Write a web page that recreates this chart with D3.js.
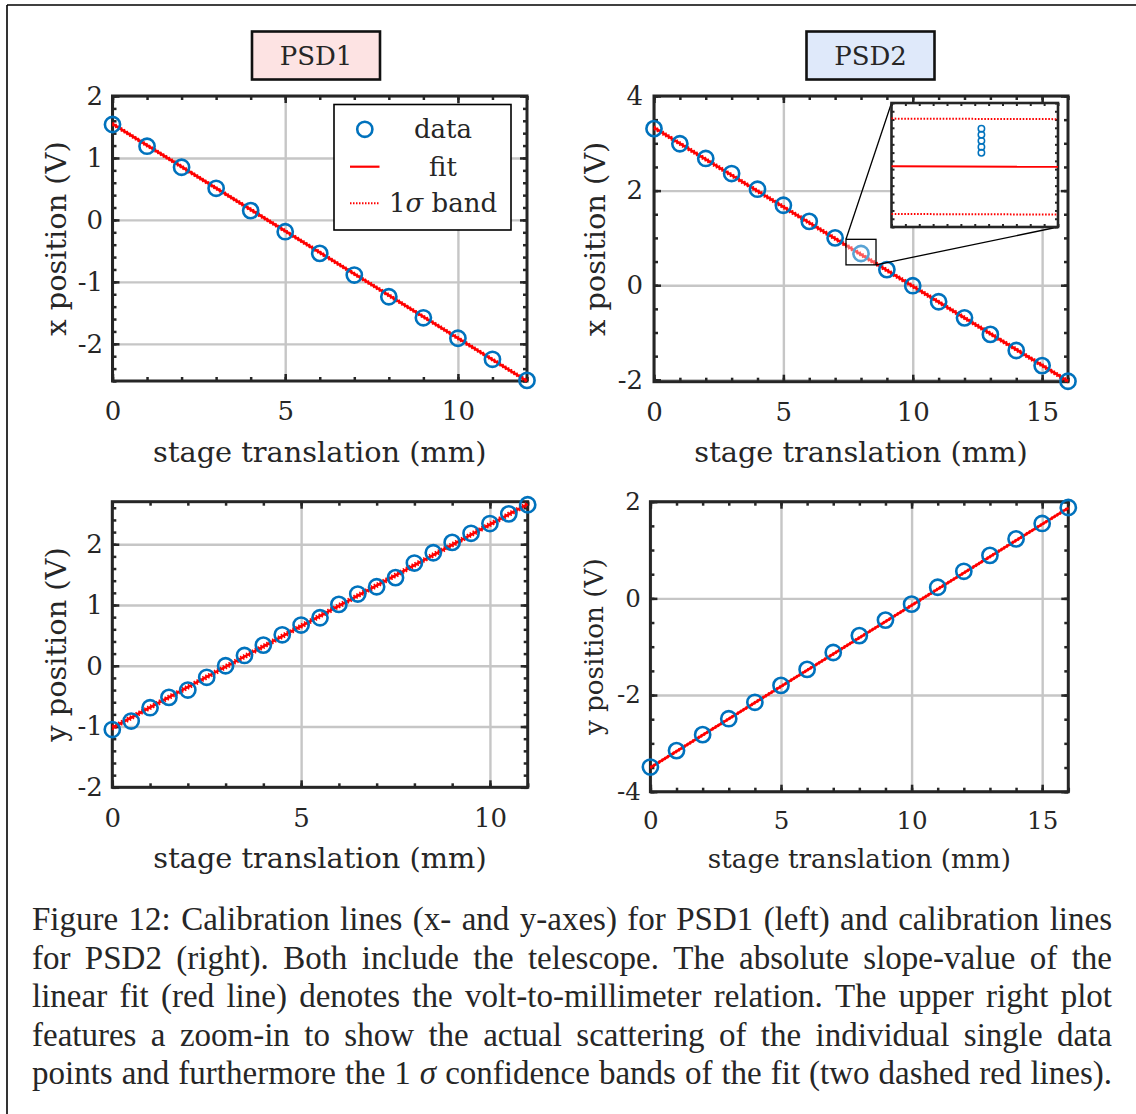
<!DOCTYPE html>
<html>
<head>
<meta charset="utf-8">
<script src="https://cdn.jsdelivr.net/npm/d3@7/dist/d3.min.js"></script>
<style>
  body { margin: 0; background: #fff; }
  svg text { font-family: "DejaVu Serif", serif; fill: #262626; }
</style>
</head>
<body>
<script>
// ---- data ----
// PSD1, x axis
var psd1xStage = [0, 1, 2, 3, 4, 5, 6, 7, 8, 9, 10, 11, 12];
var psd1xVolt  = [1.54, 1.19, 0.85, 0.51, 0.15, -0.19, -0.54, -0.89, -1.24, -1.58, -1.91, -2.25, -2.59];
var psd1xFitX  = [0, 12];
var psd1xFitY  = [1.55, -2.6];
var psd1xSigma = 0.02;

// PSD2, x axis
var psd2xStage = [0, 1, 2, 3, 4, 5, 6, 7, 8, 9, 10, 11, 12, 13, 14, 15, 16];
var psd2xVolt  = [3.31, 2.99, 2.68, 2.36, 2.03, 1.69, 1.35, 1.0, 0.67, 0.33, -0.01, -0.35, -0.69, -1.04, -1.38, -1.70, -2.03];
var psd2xFitX  = [0, 16];
var psd2xFitY  = [3.33, -2.03];
var psd2xSigma = 0.03;

// PSD2 zoom-in: repeated readings at 8 mm
var insetStage = [8, 8, 8, 8, 8];
var insetVolt  = [0.6738, 0.6700, 0.6662, 0.6624, 0.6587];

// PSD1, y axis
var psd1yStage = [0, 0.5, 1, 1.5, 2, 2.5, 3, 3.5, 4, 4.5, 5, 5.5, 6, 6.5, 7, 7.5, 8, 8.5, 9, 9.5, 10, 10.5, 11];
var psd1yVolt  = [-1.05, -0.91, -0.69, -0.52, -0.40, -0.19, 0.0, 0.17, 0.34, 0.51, 0.67, 0.79, 1.01, 1.18, 1.30, 1.45, 1.69, 1.86, 2.03, 2.18, 2.34, 2.50, 2.65];
var psd1yFitX  = [0, 11];
var psd1yFitY  = [-1.02, 2.66];
var psd1ySigma = 0.03;

// PSD2, y axis
var psd2yStage = [0, 1, 2, 3, 4, 5, 6, 7, 8, 9, 10, 11, 12, 13, 14, 15, 16];
var psd2yVolt  = [-3.49, -3.15, -2.82, -2.49, -2.15, -1.80, -1.47, -1.12, -0.77, -0.45, -0.12, 0.23, 0.56, 0.89, 1.23, 1.55, 1.88];
var psd2yFitX  = [0, 16];
var psd2yFitY  = [-3.5, 1.87];
var psd2ySigma = 0.015;

// tick values
var xTicks12 = [0, 5, 10];
var xTicks16 = [0, 5, 10, 15];
var xMinor12 = [0, 1, 2, 3, 4, 5, 6, 7, 8, 9, 10, 11, 12];
var xMinor11 = [0, 1, 2, 3, 4, 5, 6, 7, 8, 9, 10, 11];
var xMinor16 = [0, 1, 2, 3, 4, 5, 6, 7, 8, 9, 10, 11, 12, 13, 14, 15, 16];
var yTicksP1 = [-2, -1, 0, 1, 2];
var yTicksP2x = [-2, 0, 2, 4];
var yTicksP2y = [-4, -2, 0, 2];

var legendLabels = ["data", "fit", "1σ band"];

var captionLines = [
  "Figure 12: Calibration lines (x- and y-axes) for PSD1 (left) and calibration lines",
  "for PSD2 (right).  Both include the telescope.  The absolute slope-value of the",
  "linear fit (red line) denotes the volt-to-millimeter relation. The upper right plot",
  "features a zoom-in to show the actual scattering of the individual single data",
  "points and furthermore the 1 σ confidence bands of the fit (two dashed red lines)."
];

// ---- drawing ----
var W = 1136, H = 1114;
var blue = "#0072BD", red = "#FF0000", ink = "#262626";

var svg = d3.select("body").append("svg")
    .attr("width", W)
    .attr("height", H);

// figure frame (left and top rules)
svg.append("line").attr("x1", 7).attr("y1", 5).attr("x2", W).attr("y2", 5)
    .attr("stroke", "#000").attr("stroke-width", 1.6);
svg.append("line").attr("x1", 7).attr("y1", 5).attr("x2", 7).attr("y2", H)
    .attr("stroke", "#000").attr("stroke-width", 1.6);

function minorRange(dom, step) {
    var out = [];
    for (var v = Math.ceil(dom[0] / step - 1e-9) * step; v <= dom[1] + 1e-9; v += step) out.push(+v.toFixed(6));
    return out;
}

function panel(p) {
    var x = d3.scaleLinear().domain(p.xDom).range([p.left, p.right]);
    var y = d3.scaleLinear().domain(p.yDom).range([p.bottom, p.top]);
    var g = svg.append("g");
    var h = p.bottom - p.top, w = p.right - p.left;

    // grid
    var gx = g.append("g").attr("transform", "translate(0," + p.bottom + ")")
        .call(d3.axisBottom(x).tickValues(p.xTicks).tickSize(-h).tickFormat(""));
    var gy = g.append("g").attr("transform", "translate(" + p.left + ",0)")
        .call(d3.axisLeft(y).tickValues(p.yTicks).tickSize(-w).tickFormat(""));
    [gx, gy].forEach(function(a) {
        a.select(".domain").remove();
        a.selectAll("line").attr("stroke", "#c6c6c6").attr("stroke-width", 2.4);
    });

    // box
    g.append("rect")
        .attr("x", p.left).attr("y", p.top).attr("width", w).attr("height", h)
        .attr("fill", "none").attr("stroke", ink).attr("stroke-width", 3);

    // ticks (inward, all four sides)
    var yMinor = minorRange(p.yDom, p.yStep);
    var axes = [
        [d3.axisBottom(x).tickValues(p.xMinor).tickSize(-4), "translate(0," + p.bottom + ")"],
        [d3.axisTop(x).tickValues(p.xMinor).tickSize(-4), "translate(0," + p.top + ")"],
        [d3.axisLeft(y).tickValues(yMinor).tickSize(-4), "translate(" + p.left + ",0)"],
        [d3.axisRight(y).tickValues(yMinor).tickSize(-4), "translate(" + p.right + ",0)"],
        [d3.axisTop(x).tickValues(p.xTicks).tickSize(-7), "translate(0," + p.top + ")"],
        [d3.axisRight(y).tickValues(p.yTicks).tickSize(-7), "translate(" + p.right + ",0)"]
    ];
    axes.forEach(function(a) {
        var s = g.append("g").attr("transform", a[1]).call(a[0].tickFormat(""));
        s.select(".domain").remove();
        s.selectAll("line").attr("stroke", ink).attr("stroke-width", 2.5);
    });

    var xa = g.append("g").attr("transform", "translate(0," + p.bottom + ")")
        .call(d3.axisBottom(x).tickValues(p.xTicks).tickSize(-7).tickPadding(p.xPad));
    var ya = g.append("g").attr("transform", "translate(" + p.left + ",0)")
        .call(d3.axisLeft(y).tickValues(p.yTicks).tickSize(-7).tickPadding(p.yPad)
            .tickFormat(function(d) { return String(d); }));
    [xa, ya].forEach(function(a) {
        a.select(".domain").remove();
        a.selectAll("line").attr("stroke", ink).attr("stroke-width", 2.5);
        a.selectAll("text").attr("font-size", p.tickFont).attr("fill", ink)
            .style("font-family", "'DejaVu Serif', serif");
    });

    // axis labels
    g.append("text")
        .attr("x", (p.left + p.right) / 2).attr("y", p.xLabelY)
        .attr("text-anchor", "middle").attr("font-size", p.labelFont)
        .text("stage translation (mm)");
    g.append("text")
        .attr("transform", "translate(" + p.yLabelX + "," + ((p.top + p.bottom) / 2) + ") rotate(-90)")
        .attr("text-anchor", "middle").attr("font-size", p.labelFont)
        .text(p.yLabel);

    // fit and 1 sigma band
    var line = d3.line().x(function(d) { return x(d[0]); }).y(function(d) { return y(d[1]); });
    var fit = p.fitX.map(function(v, i) { return [v, p.fitY[i]]; });
    [-1, 1].forEach(function(sgn) {
        g.append("path")
            .attr("d", line(fit.map(function(d) { return [d[0], d[1] + sgn * p.sigma]; })))
            .attr("fill", "none").attr("stroke", red).attr("stroke-width", 2)
            .attr("stroke-dasharray", "1.5,1.8");
    });
    g.append("path").attr("d", line(fit))
        .attr("fill", "none").attr("stroke", red).attr("stroke-width", 2.6);

    // data
    g.selectAll("circle.pt").data(p.xs).enter().append("circle")
        .attr("class", "pt")
        .attr("cx", function(d) { return x(d); })
        .attr("cy", function(d, i) { return y(p.ys[i]); })
        .attr("r", 7.6)
        .attr("fill", "none").attr("stroke", blue).attr("stroke-width", 2.6);

    return { x: x, y: y, g: g };
}

// title boxes
function titleBox(cx, label, fill) {
    svg.append("rect").attr("x", cx - 64).attr("y", 31.5).attr("width", 128).attr("height", 48)
        .attr("fill", fill).attr("stroke", "#111").attr("stroke-width", 2.6);
    svg.append("text").attr("x", cx).attr("y", 65).attr("text-anchor", "middle")
        .attr("font-size", 26).attr("fill", "#111").text(label);
}
titleBox(316, "PSD1", "#fde3e3");
titleBox(870.5, "PSD2", "#dfe9fa");

var p1 = panel({
    left: 112.5, right: 527, top: 96, bottom: 381,
    xDom: [0, 12], yDom: [-2.6, 2], xTicks: xTicks12, xMinor: xMinor12,
    yTicks: yTicksP1, yStep: 0.2, xPad: 21, yPad: 9.5,
    tickFont: 26, labelFont: 28.8, xLabelY: 462, yLabelX: 66, yLabel: "x position (V)",
    xs: psd1xStage, ys: psd1xVolt, fitX: psd1xFitX, fitY: psd1xFitY, sigma: psd1xSigma
});

var p2 = panel({
    left: 654, right: 1068, top: 96, bottom: 381.7,
    xDom: [0, 16], yDom: [-2.04, 4], xTicks: xTicks16, xMinor: xMinor16,
    yTicks: yTicksP2x, yStep: 0.5, xPad: 21, yPad: 11,
    tickFont: 26, labelFont: 28.8, xLabelY: 462, yLabelX: 605, yLabel: "x position (V)",
    xs: psd2xStage, ys: psd2xVolt, fitX: psd2xFitX, fitY: psd2xFitY, sigma: psd2xSigma
});

var p3 = panel({
    left: 112.3, right: 527.7, top: 501.7, bottom: 787.3,
    xDom: [0, 11], yDom: [-2, 2.7], xTicks: xTicks12, xMinor: xMinor11,
    yTicks: yTicksP1, yStep: 0.2, xPad: 21, yPad: 9.5,
    tickFont: 26, labelFont: 28.8, xLabelY: 868, yLabelX: 66, yLabel: "y position (V)",
    xs: psd1yStage, ys: psd1yVolt, fitX: psd1yFitX, fitY: psd1yFitY, sigma: psd1ySigma
});

var p4 = panel({
    left: 650.4, right: 1068.3, top: 501.7, bottom: 791.7,
    xDom: [0, 16], yDom: [-4, 2], xTicks: xTicks16, xMinor: xMinor16,
    yTicks: yTicksP2y, yStep: 0.5, xPad: 20, yPad: 9.5,
    tickFont: 24.5, labelFont: 26.2, xLabelY: 868, yLabelX: 603, yLabel: "y position (V)",
    xs: psd2yStage, ys: psd2yVolt, fitX: psd2yFitX, fitY: psd2yFitY, sigma: psd2ySigma
});

// legend (PSD1 x panel)
var lg = svg.append("g");
lg.append("rect").attr("x", 334).attr("y", 104.5).attr("width", 177).attr("height", 125.5)
    .attr("fill", "#fff").attr("stroke", "#000").attr("stroke-width", 1.6);
var rowY = [129.3, 166.7, 203.3];
lg.append("circle").attr("cx", 364.8).attr("cy", rowY[0]).attr("r", 7.6)
    .attr("fill", "none").attr("stroke", blue).attr("stroke-width", 2.6);
lg.append("line").attr("x1", 350).attr("x2", 379.5).attr("y1", rowY[1]).attr("y2", rowY[1])
    .attr("stroke", red).attr("stroke-width", 2.2);
lg.append("line").attr("x1", 350).attr("x2", 379.5).attr("y1", rowY[2]).attr("y2", rowY[2])
    .attr("stroke", red).attr("stroke-width", 2).attr("stroke-dasharray", "1.5,1.5");
legendLabels.forEach(function(t, i) {
    var tx = lg.append("text").attr("x", 443).attr("y", rowY[i]).attr("dy", "0.35em")
        .attr("text-anchor", "middle").attr("font-size", 26).attr("fill", "#111");
    if (t.indexOf("σ") >= 0) {
        tx.append("tspan").text("1");
        tx.append("tspan").attr("font-style", "italic").text("σ");
        tx.append("tspan").text(" band");
    } else {
        tx.text(t);
    }
});

// zoom-in on PSD2 x panel
var zr = { x0: 7.42, x1: 8.58, y0: 0.43, y1: 0.97 };
var ib = { left: 891.5, right: 1058, top: 103, bottom: 227 };
var zx0 = p2.x(zr.x0), zx1 = p2.x(zr.x1), zy0 = p2.y(zr.y1), zy1 = p2.y(zr.y0);
p2.g.append("rect").attr("x", zx0).attr("y", zy0).attr("width", zx1 - zx0).attr("height", zy1 - zy0)
    .attr("fill", "#fff").attr("fill-opacity", 0.35).attr("stroke", "#000").attr("stroke-width", 1.3);
p2.g.append("line").attr("x1", zx0).attr("y1", zy0).attr("x2", ib.left).attr("y2", ib.top)
    .attr("stroke", "#000").attr("stroke-width", 1.3);
p2.g.append("line").attr("x1", zx1).attr("y1", zy1).attr("x2", ib.right).attr("y2", ib.bottom)
    .attr("stroke", "#000").attr("stroke-width", 1.3);

var fitAt8 = psd2xFitY[0] + (psd2xFitY[1] - psd2xFitY[0]) * (8 - psd2xFitX[0]) / (psd2xFitX[1] - psd2xFitX[0]);
var ix = d3.scaleLinear().domain([7.99946, 8.00046]).range([ib.left, ib.right]);
var iy = d3.scaleLinear().domain([0.612, 0.690]).range([ib.bottom, ib.top]);
var ig = svg.append("g");
ig.append("rect").attr("x", ib.left).attr("y", ib.top)
    .attr("width", ib.right - ib.left).attr("height", ib.bottom - ib.top)
    .attr("fill", "#fff").attr("stroke", ink).attr("stroke-width", 2.6);
var ixTicks = d3.range(13).map(function(i) { return ix.invert(ib.left + i * (ib.right - ib.left) / 12); });
var iyTicks = d3.range(16).map(function(i) { return iy.invert(ib.bottom - i * (ib.bottom - ib.top) / 15); });
[
    [d3.axisBottom(ix).tickValues(ixTicks), "translate(0," + ib.bottom + ")"],
    [d3.axisTop(ix).tickValues(ixTicks), "translate(0," + ib.top + ")"],
    [d3.axisLeft(iy).tickValues(iyTicks), "translate(" + ib.left + ",0)"],
    [d3.axisRight(iy).tickValues(iyTicks), "translate(" + ib.right + ",0)"]
].forEach(function(a) {
    var s = ig.append("g").attr("transform", a[1]).call(a[0].tickSize(-3).tickFormat(""));
    s.select(".domain").remove();
    s.selectAll("line").attr("stroke", ink).attr("stroke-width", 2);
});
var iline = d3.line().x(function(d) { return ix(d[0]); }).y(function(d) { return iy(d[1]); });
var islope = (psd2xFitY[1] - psd2xFitY[0]) / (psd2xFitX[1] - psd2xFitX[0]);
var ifit = ix.domain().map(function(v) { return [v, fitAt8 + islope * (v - 8)]; });
[-1, 1].forEach(function(sgn) {
    ig.append("path")
        .attr("d", iline(ifit.map(function(d) { return [d[0], d[1] + sgn * psd2xSigma]; })))
        .attr("fill", "none").attr("stroke", red).attr("stroke-width", 2)
        .attr("stroke-dasharray", "1.6,1.6");
});
ig.append("path").attr("d", iline(ifit)).attr("fill", "none").attr("stroke", red).attr("stroke-width", 2);
ig.selectAll("circle").data(insetStage).enter().append("circle")
    .attr("cx", function(d) { return ix(d); })
    .attr("cy", function(d, i) { return iy(insetVolt[i]); })
    .attr("r", 3.2).attr("fill", "none").attr("stroke", blue).attr("stroke-width", 1.5);

// caption, justified between two margins
var capLeft = 32, capRight = 1112, capBase = 930, capStep = 38.6;
captionLines.forEach(function(lineText, li) {
    var words = lineText.split(/\s+/);
    var row = svg.append("g");
    var nodes = words.map(function(wd) {
        var t = row.append("text").attr("y", capBase + li * capStep)
            .attr("font-size", 33)
            .style("font-family", "'Liberation Serif', 'Times New Roman', serif")
            .attr("fill", "#111")
            .text(wd);
        if (wd === "σ") t.attr("font-style", "italic");
        return t;
    });
    var widths = nodes.map(function(t) { return t.node().getComputedTextLength(); });
    var total = d3.sum(widths);
    var gap = (capRight - capLeft - total) / (words.length - 1);
    var cx = capLeft;
    nodes.forEach(function(t, i) {
        t.attr("x", cx);
        cx += widths[i] + gap;
    });
});
</script>
</body>
</html>
